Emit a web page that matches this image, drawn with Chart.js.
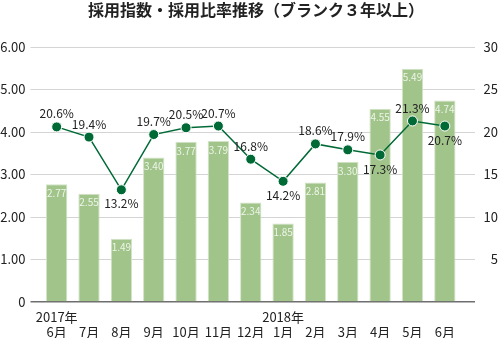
<!DOCTYPE html>
<html>
<head>
<meta charset="utf-8">
<script src="https://cdn.jsdelivr.net/npm/chart.js@4"></script>
<style>
  html, body { margin: 0; padding: 0; background: #fff; }
  #wrap { width: 498px; height: 338px; }
</style>
</head>
<body>
<div id="wrap"><canvas id="c" width="498" height="338"></canvas></div>
<script>
const title = '採用指数・採用比率推移（ブランク３年以上）';
const months = [['2017年', '6月'], ['', '7月'], ['', '8月'], ['', '9月'], ['', '10月'], ['', '11月'], ['', '12月'],
                ['2018年', '1月'], ['', '2月'], ['', '3月'], ['', '4月'], ['', '5月'], ['', '6月']];
const hireIndex = [2.77, 2.55, 1.49, 3.40, 3.77, 3.79, 2.34, 1.85, 2.81, 3.30, 4.55, 5.49, 4.74];
const hireRatio = [20.6, 19.4, 13.2, 19.7, 20.5, 20.7, 16.8, 14.2, 18.6, 17.9, 17.3, 21.3, 20.7];
const leftTicks = [0, 1, 2, 3, 4, 5, 6];
const rightTicks = [0, 5, 10, 15, 20, 25, 30];

const FONT = '"Noto Sans CJK JP", "Noto Sans", sans-serif';
const barColor = '#a1c48b';
const lineColor = '#006a36';

// which line labels sit under their point
const belowIdx = [2, 7, 10, 12];

const valueLabels = {
    id: 'valueLabels',
    afterDatasetsDraw(chart) {
        const ctx = chart.ctx;
        ctx.save();
        ctx.textAlign = 'center';
        ctx.textBaseline = 'middle';

        const bars = chart.getDatasetMeta(1).data;
        ctx.font = '10px ' + FONT;
        ctx.fillStyle = '#eef5e8';
        bars.forEach((b, i) => {
            ctx.fillText(hireIndex[i].toFixed(2), b.x, b.y + 9);
        });

        const pts = chart.getDatasetMeta(0).data;
        ctx.font = '12px ' + FONT;
        ctx.fillStyle = '#222';
        pts.forEach((p, i) => {
            const dy = belowIdx.includes(i) ? 14 : -13;
            ctx.fillText(hireRatio[i].toFixed(1) + '%', p.x, p.y + dy);
        });

        // chart title
        ctx.font = 'bold 16px ' + FONT;
        ctx.fillText(title, 256, 10);
        ctx.restore();
    }
};

const ctx = document.getElementById('c').getContext('2d');
new Chart(ctx, {
    data: {
        labels: months,
        datasets: [
            {
                type: 'line',
                label: '採用比率',
                data: hireRatio,
                yAxisID: 'y1',
                borderColor: lineColor,
                backgroundColor: lineColor,
                pointBackgroundColor: lineColor,
                pointBorderColor: '#fff',
                pointBorderWidth: 1,
                pointRadius: 5,
                borderWidth: 1.5,
                tension: 0,
                order: 0
            },
            {
                type: 'bar',
                label: '採用指数',
                data: hireIndex,
                yAxisID: 'y',
                backgroundColor: barColor,
                borderColor: '#d3e4c6',
                borderWidth: 1,
                categoryPercentage: 1,
                barPercentage: 0.66,
                order: 1
            }
        ]
    },
    options: {
        responsive: false,
        animation: false,
        layout: { padding: { top: 47 } },
        plugins: {
            legend: { display: false },
            tooltip: { enabled: false },
            title: { display: false }
        },
        scales: {
            x: {
                grid: { display: false },
                border: { display: false },
                ticks: {
                    color: '#222',
                    font: { family: FONT, size: 13, lineHeight: 1.15 },
                    maxRotation: 0,
                    autoSkip: false,
                    padding: 0
                },
                afterFit(s) { s.height = 36; }
            },
            y: {
                position: 'left',
                min: leftTicks[0],
                max: leftTicks[leftTicks.length - 1],
                afterBuildTicks(s) { s.ticks = leftTicks.map(v => ({ value: v })); },
                border: { display: false },
                grid: {
                    color: c => c.tick && c.tick.value === 0 ? '#6e6e6e' : '#d4d4d4',
                    lineWidth: c => c.tick && c.tick.value === 0 ? 1.5 : 1,
                    tickLength: 10
                },
                ticks: {
                    color: '#222',
                    font: { family: FONT, size: 13 },
                    padding: 5,
                    callback: v => v === 0 ? '0' : v.toFixed(2)
                },
                afterFit(s) { s.width = 40.5; }
            },
            y1: {
                position: 'right',
                min: rightTicks[0],
                max: rightTicks[rightTicks.length - 1],
                afterBuildTicks(s) { s.ticks = rightTicks.map(v => ({ value: v })); },
                border: { display: false },
                grid: {
                    drawOnChartArea: false,
                    color: c => c.tick && c.tick.value === 0 ? '#6e6e6e' : '#d4d4d4',
                    lineWidth: c => c.tick && c.tick.value === 0 ? 1.5 : 1,
                    tickLength: 14
                },
                ticks: {
                    color: '#222',
                    font: { family: FONT, size: 13 },
                    padding: 8,
                    crossAlign: 'far',
                    callback: v => v === 0 ? '' : String(v)
                },
                afterFit(s) { s.width = 37; }
            }
        }
    },
    plugins: [valueLabels]
});
</script>
</body>
</html>
